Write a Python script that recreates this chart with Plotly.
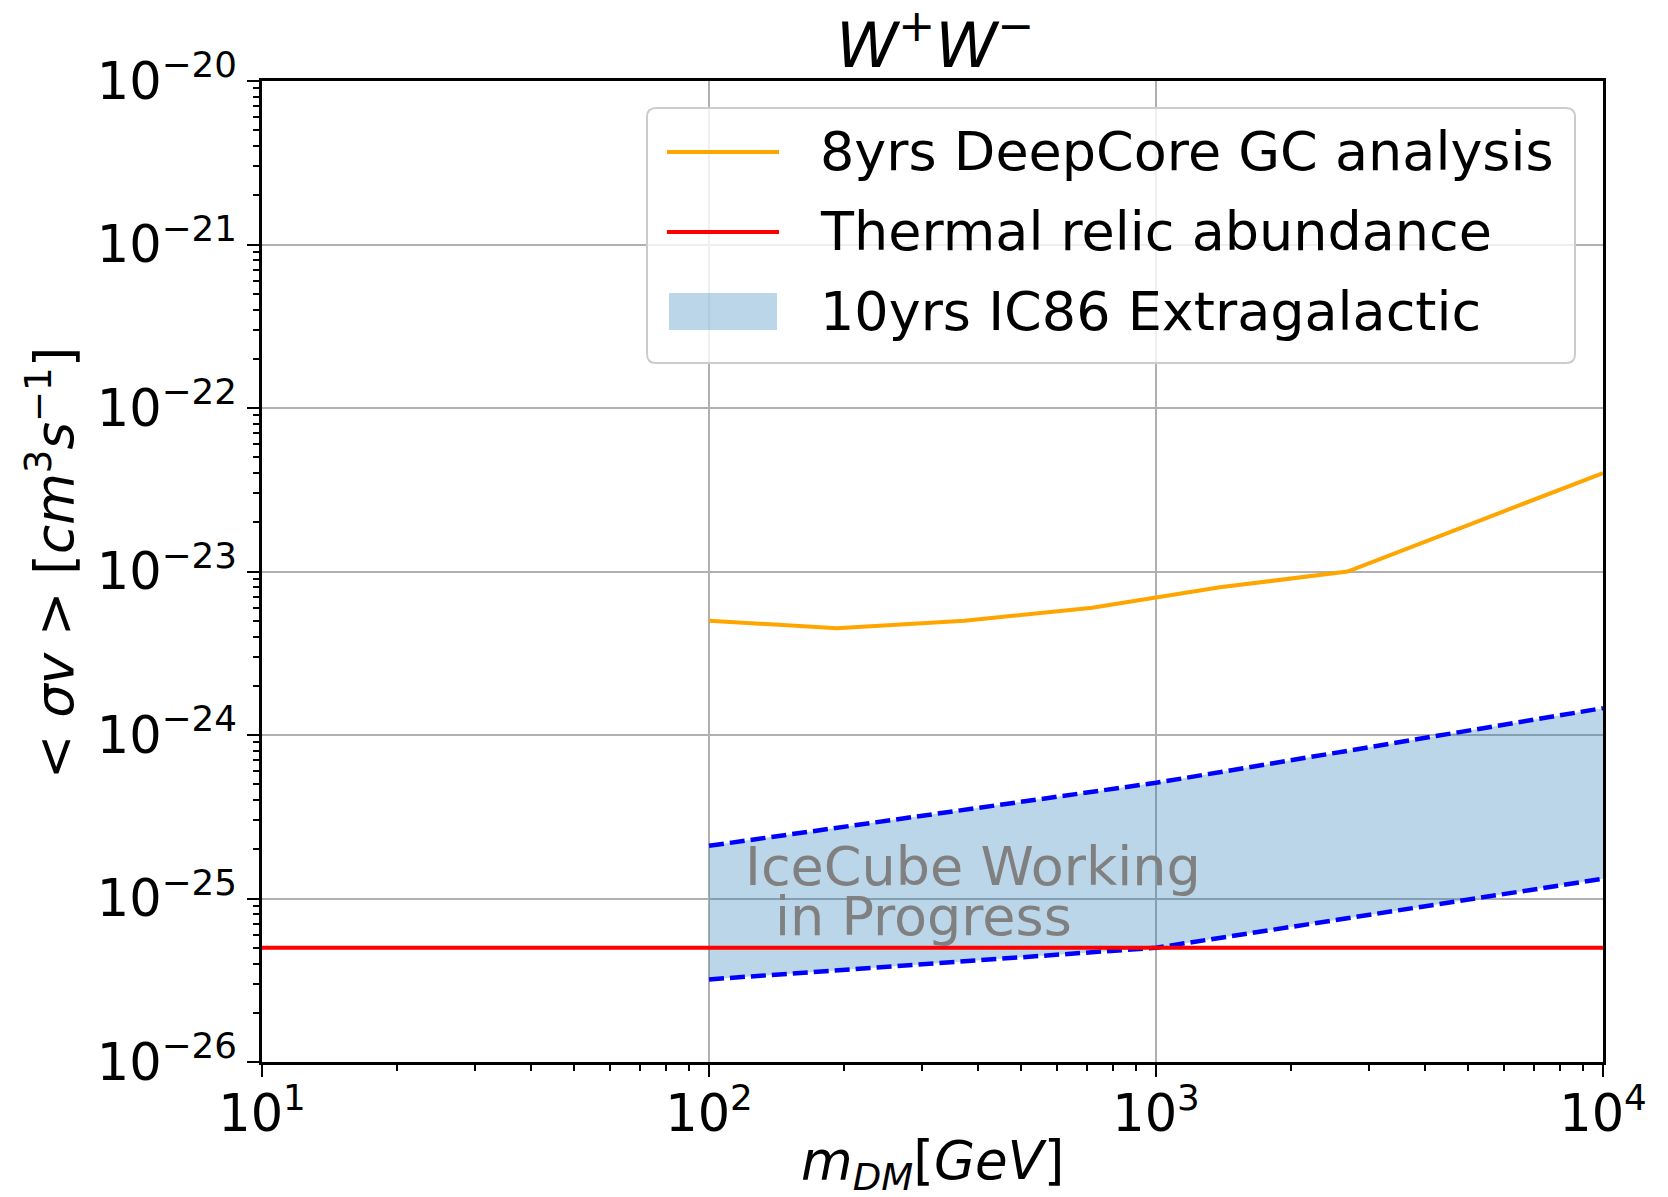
import plotly.graph_objects as go

# ---- data -------------------------------------------------------------
# DM mass grid of the DeepCore limit [GeV]
deepcore_mass = [100.0, 193.1, 372.8, 719.7, 1389.5, 2682.7, 5179.5, 10000.0]
# 8yrs DeepCore GC analysis, <sigma v> upper limit [cm^3 s^-1]
deepcore_sigmav = [5.0e-24, 4.5e-24, 5.0e-24, 6.0e-24, 8.0e-24, 1.0e-23, 2.0e-23, 4.0e-23]

# Thermal relic abundance cross section
relic_mass = [10.0, 10000.0]
relic_sigmav = [5.0e-26, 5.0e-26]

# 10yrs IC86 Extragalactic sensitivity band
ic86_mass = [100.0, 1000.0, 10000.0]
ic86_upper = [2.1e-25, 5.1e-25, 1.46e-24]
ic86_lower = [3.2e-26, 5.0e-26, 1.32e-25]

x_decades = [10, 100, 1000, 10000]
x_ticktext = ["10<sup>1</sup>", "10<sup>2</sup>", "10<sup>3</sup>", "10<sup>4</sup>"]
y_decades = [1e-26, 1e-25, 1e-24, 1e-23, 1e-22, 1e-21, 1e-20]
y_ticktext = ["10<sup>−26</sup>", "10<sup>−25</sup>", "10<sup>−24</sup>", "10<sup>−23</sup>",
              "10<sup>−22</sup>", "10<sup>−21</sup>", "10<sup>−20</sup>"]

legend_labels = ["8yrs DeepCore GC analysis", "Thermal relic abundance", "10yrs IC86 Extragalactic"]

# ---- style ------------------------------------------------------------
FONT = "DejaVu Sans"
ORANGE = "#FFA500"
RED = "#FF0000"
BLUE = "#0000FF"
BAND = "rgba(31,119,180,0.3)"
GRID = "#b0b0b0"

W, H = 1668, 1197
L, R, T, B = 262, 1603, 81, 1062   # plot area in pixels
PW, PH = R - L, B - T


def px(xp):
    return (xp - L) / PW


def py(yp):
    return 1 - (yp - T) / PH


fig = go.Figure()

# IC86 band: lower edge, then upper edge filled down to it
fig.add_trace(go.Scatter(x=ic86_mass, y=ic86_lower, mode="lines",
                         line=dict(color=BLUE, width=4.5, dash="15px,6px"),
                         showlegend=False, hoverinfo="skip"))
fig.add_trace(go.Scatter(x=ic86_mass, y=ic86_upper, mode="lines", fill="tonexty",
                         fillcolor=BAND,
                         line=dict(color=BLUE, width=4.5, dash="15px,6px"),
                         showlegend=False, hoverinfo="skip"))
# thermal relic line
fig.add_trace(go.Scatter(x=relic_mass, y=relic_sigmav, mode="lines",
                         line=dict(color=RED, width=4), showlegend=False))
# DeepCore limit
fig.add_trace(go.Scatter(x=deepcore_mass, y=deepcore_sigmav, mode="lines",
                         line=dict(color=ORANGE, width=4), showlegend=False))


def minor_vals(lo, hi):
    vals = []
    for e in range(lo, hi):
        for k in range(2, 10):
            vals.append(k * 10.0 ** e)
    return vals


axis_common = dict(
    type="log",
    showline=True, linecolor="black", linewidth=2.5, mirror=True,
    showgrid=True, gridcolor=GRID, gridwidth=2,
    zeroline=False,
    ticks="outside", ticklen=12, tickwidth=2, tickcolor="black",
    tickfont=dict(family=FONT, size=51, color="black"),
    tickmode="array",
)

fig.update_xaxes(range=[1, 4], tickvals=x_decades, ticktext=x_ticktext,
                 ticklabelstandoff=-7,
                 minor=dict(tickmode="array", tickvals=minor_vals(1, 4), ticks="outside",
                            ticklen=6, tickwidth=1.5, tickcolor="black", showgrid=False),
                 **axis_common)
fig.update_yaxes(range=[-26, -20], tickvals=y_decades, ticktext=y_ticktext,
                 minor=dict(tickmode="array", tickvals=minor_vals(-26, -20), ticks="outside",
                            ticklen=6, tickwidth=1.5, tickcolor="black", showgrid=False),
                 **axis_common)

annotations = []
# title
annotations.append(dict(xref="paper", yref="paper", x=px(935), y=py(41),
                        xanchor="center", yanchor="middle", showarrow=False,
                        text="<i>W</i><sup>+</sup><i>W</i><sup>−</sup>",
                        font=dict(family=FONT, size=63, color="black")))
# x axis title
annotations.append(dict(xref="paper", yref="paper", x=px(933), y=py(1164),
                        xanchor="center", yanchor="middle", showarrow=False,
                        text="<i>m</i><sub><i>DM</i></sub>[<i>GeV</i>]",
                        font=dict(family=FONT, size=53, color="black")))
# y axis title
annotations.append(dict(xref="paper", yref="paper", x=px(51), y=py(563),
                        xanchor="center", yanchor="middle", showarrow=False, textangle=-90,
                        text="&lt; <i>σv</i> &gt; [<i>cm</i><sup>3</sup><i>s</i><sup>−1</sup>]",
                        font=dict(family=FONT, size=53, color="black")))
# watermark
annotations.append(dict(xref="paper", yref="paper", x=px(743), y=py(866),
                        xanchor="left", yanchor="middle", showarrow=False,
                        text="IceCube Working",
                        font=dict(family=FONT, size=54, color="#808080")))
annotations.append(dict(xref="paper", yref="paper", x=px(773), y=py(916),
                        xanchor="left", yanchor="middle", showarrow=False,
                        text="in Progress",
                        font=dict(family=FONT, size=54, color="#808080")))

# legend box (rounded corners)
bx0, bx1, by0, by1, rad = 647, 1575, 108, 363, 9
rx, ry = rad / PW, rad / PH
X0, X1, Y0, Y1 = px(bx0), px(bx1), py(by0), py(by1)
path = (f"M {X0 + rx},{Y0} L {X1 - rx},{Y0} Q {X1},{Y0} {X1},{Y0 - ry} "
        f"L {X1},{Y1 + ry} Q {X1},{Y1} {X1 - rx},{Y1} "
        f"L {X0 + rx},{Y1} Q {X0},{Y1} {X0},{Y1 + ry} "
        f"L {X0},{Y0 - ry} Q {X0},{Y0} {X0 + rx},{Y0} Z")
shapes = [dict(type="path", xref="paper", yref="paper", path=path,
               fillcolor="rgba(255,255,255,0.8)", line=dict(color="#cccccc", width=2),
               layer="above")]

row_y = [151.5, 231.5, 311.5]
shapes.append(dict(type="line", xref="paper", yref="paper", x0=px(667), x1=px(779),
                   y0=py(152), y1=py(152), line=dict(color=ORANGE, width=4), layer="above"))
shapes.append(dict(type="line", xref="paper", yref="paper", x0=px(667), x1=px(779),
                   y0=py(232), y1=py(232), line=dict(color=RED, width=4), layer="above"))
shapes.append(dict(type="rect", xref="paper", yref="paper", x0=px(669), x1=px(777),
                   y0=py(330), y1=py(293), fillcolor=BAND, line=dict(width=0), layer="above"))
for label, yy in zip(legend_labels, row_y):
    annotations.append(dict(xref="paper", yref="paper", x=px(818), y=py(yy),
                            xanchor="left", yanchor="middle", showarrow=False,
                            text=label, font=dict(family=FONT, size=54, color="black")))

fig.update_layout(
    width=W, height=H,
    margin=dict(l=L, r=W - R, t=T, b=H - B),
    paper_bgcolor="white", plot_bgcolor="white",
    showlegend=False,
    annotations=annotations,
    shapes=shapes,
    font=dict(family=FONT, color="black"),
)

fig.write_html("out.html")
